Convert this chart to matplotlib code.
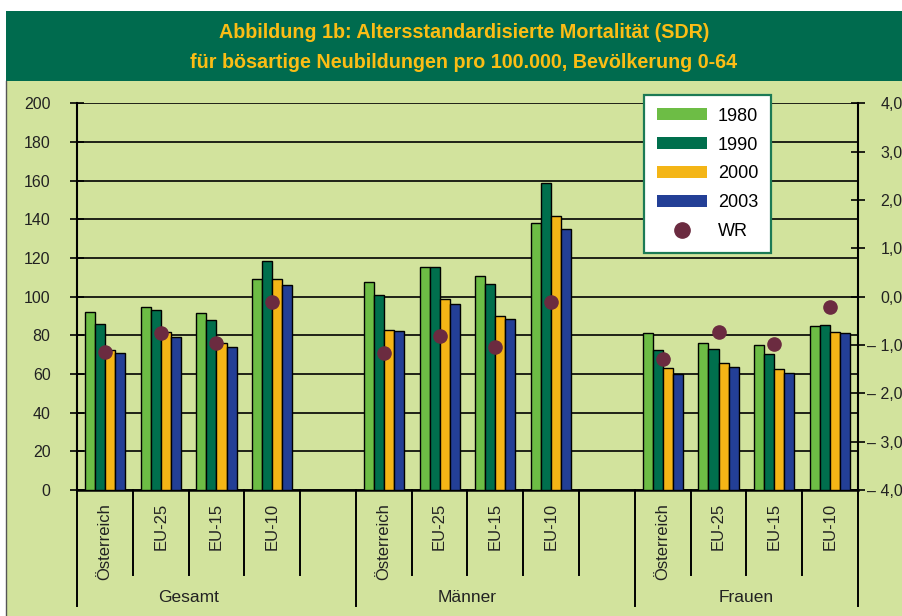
import numpy as np
import matplotlib.pyplot as plt
from matplotlib.patches import Rectangle, Patch
from matplotlib.lines import Line2D

# data
groups = ['Gesamt', 'Männer', 'Frauen']
regions = ['Österreich', 'EU-25', 'EU-15', 'EU-10']
years = ['1980', '1990', '2000', '2003']

sdr_1980 = [92.2, 94.5, 91.6, 109.1, 107.5, 115.5, 110.9, 138.0, 81.4, 75.9, 75.2, 84.8]
sdr_1990 = [85.7, 93.1, 87.8, 118.6, 100.7, 115.5, 106.4, 158.7, 72.4, 73.0, 70.2, 85.2]
sdr_2000 = [72.4, 81.6, 76.2, 109.3, 82.7, 99.0, 90.2, 141.5, 63.1, 65.5, 62.4, 81.6]
sdr_2003 = [71.0, 79.1, 74.1, 106.1, 82.0, 96.1, 88.3, 135.1, 60.0, 63.8, 60.6, 81.1]
wr = [-1.14, -0.76, -0.95, -0.10, -1.17, -0.81, -1.05, -0.11, -1.29, -0.73, -0.97, -0.22]

right_ticks = [-4, -3, -2, -1, 0, 1, 2, 3, 4]
right_labels = ['– 4,0', '– 3,0', '– 2,0', '– 1,0', '0,0', '1,0', '2,0', '3,0', '4,0']

colors = ['#6dbd45', '#006f4d', '#f4b516', '#233f96']
wr_color = '#6b2b40'
bg = '#d2e39d'
band = '#006b4e'
title_color = '#fbbd15'

plt.rcParams['font.family'] = ['Liberation Sans', 'DejaVu Sans']

W, H = 903, 616
fig = plt.figure(figsize=(W / 100, H / 100), dpi=100)
fig.patch.set_facecolor('white')

# light green background and dark title band
fig.patches.append(Rectangle((6 / W, 0), 1, 1 - 81 / H, transform=fig.transFigure,
                             facecolor=bg, edgecolor='none', zorder=-10))
fig.patches.append(Rectangle((6 / W, 1 - 81 / H), 1, 70 / H, transform=fig.transFigure,
                             facecolor=band, edgecolor='none', zorder=-10))
fig.add_artist(Line2D([6 / W, 6 / W], [0, 1 - 81 / H], transform=fig.transFigure,
                      color='#555555', lw=1.0))

fig.text(464 / W, 1 - 33 / H, 'Abbildung 1b: Altersstandardisierte Mortalität (SDR)',
         ha='center', va='center', color=title_color, fontsize=14.2, fontweight='bold')
fig.text(464 / W, 1 - 62 / H, 'für bösartige Neubildungen pro 100.000, Bevölkerung 0-64',
         ha='center', va='center', color=title_color, fontsize=14.2, fontweight='bold')

left, right, bottom, top = 77, 858, 490, 103.4
ax = fig.add_axes([left / W, 1 - bottom / H, (right - left) / W, (bottom - top) / H])
ax.set_facecolor('none')

# slot positions: 4 regions + one empty slot per group
slots = []
for g in range(3):
    for r in range(4):
        slots.append(g * 5 + r)
slots = np.array(slots)

width = 0.18
offsets = [-1.5 * width, -0.5 * width, 0.5 * width, 1.5 * width]
series = [sdr_1980, sdr_1990, sdr_2000, sdr_2003]
for vals, off, col, lab in zip(series, offsets, colors, years):
    ax.bar(slots + off, vals, width, color=col, edgecolor='black', linewidth=1.0,
           label=lab, zorder=3)

ax.set_xlim(-0.5, 13.5)
ax.set_ylim(0, 200)
ax.set_yticks(np.arange(0, 201, 20))
ax.yaxis.grid(True, color='black', linewidth=1.2, zorder=0)
ax.set_axisbelow(True)
ax.tick_params(axis='y', direction='inout', length=10, width=1.2, pad=14,
               labelsize=11.5, colors='black', labelcolor='#222222')
ax.set_xticks([])
for s in ['top', 'right']:
    ax.spines[s].set_visible(False)
ax.spines['left'].set_linewidth(1.5)
ax.spines['bottom'].set_linewidth(1.8)

# separators below the x axis
h = bottom - top
trans = ax.get_xaxis_transform()
for b in np.arange(-0.5, 14, 1.0):
    if b in (-0.5, 4.5, 9.5, 13.5):
        y_end = -(606 - bottom) / h
    else:
        y_end = -(575 - bottom) / h
    ax.plot([b, b], [0, y_end], transform=trans, color='black', lw=1.4, clip_on=False)

for i, s in enumerate(slots):
    ax.text(s, -13 / h, regions[i % 4], transform=trans, rotation=90, ha='center',
            va='top', fontsize=12, color='#222222')
for g, name in enumerate(groups):
    ax.text(g * 5 + 1.5, -(598 - bottom) / h, name, transform=trans, ha='center',
            va='center', fontsize=12.5, color='#222222')

# right axis with WR dots
ax2 = ax.twinx()
ax2.set_ylim(-4, 4)
ax2.set_yticks(right_ticks)
ax2.set_yticklabels(right_labels)
for s in ['top', 'left', 'bottom']:
    ax2.spines[s].set_visible(False)
ax2.spines['right'].set_linewidth(1.5)
ax2.spines['right'].set_bounds(-4, 4)
ax2.tick_params(axis='y', direction='inout', length=10, width=1.2, pad=27,
                labelsize=11.5, labelcolor='#222222')
for t in ax2.get_yticklabels():
    t.set_horizontalalignment('right')
ax2.plot(slots, wr, 'o', color=wr_color, markersize=9.5, zorder=5, label='WR')

handles = [Patch(facecolor=c, edgecolor='none', label=y) for c, y in zip(colors, years)]
handles.append(Line2D([], [], marker='o', linestyle='none', color=wr_color,
                      markersize=11, label='WR'))
leg = fig.legend(handles=handles, loc='upper left',
                 bbox_to_anchor=(644 / W, 1 - 95 / H), fontsize=13,
                 handlelength=2.8, handleheight=0.65, labelspacing=0.66,
                 handletextpad=0.6, borderpad=0.7, borderaxespad=0,
                 fancybox=False, framealpha=1)
leg.get_frame().set_edgecolor('#1c7a55')
leg.get_frame().set_linewidth(1.6)
leg.set_zorder(10)

fig.savefig('out.png', dpi=100)
